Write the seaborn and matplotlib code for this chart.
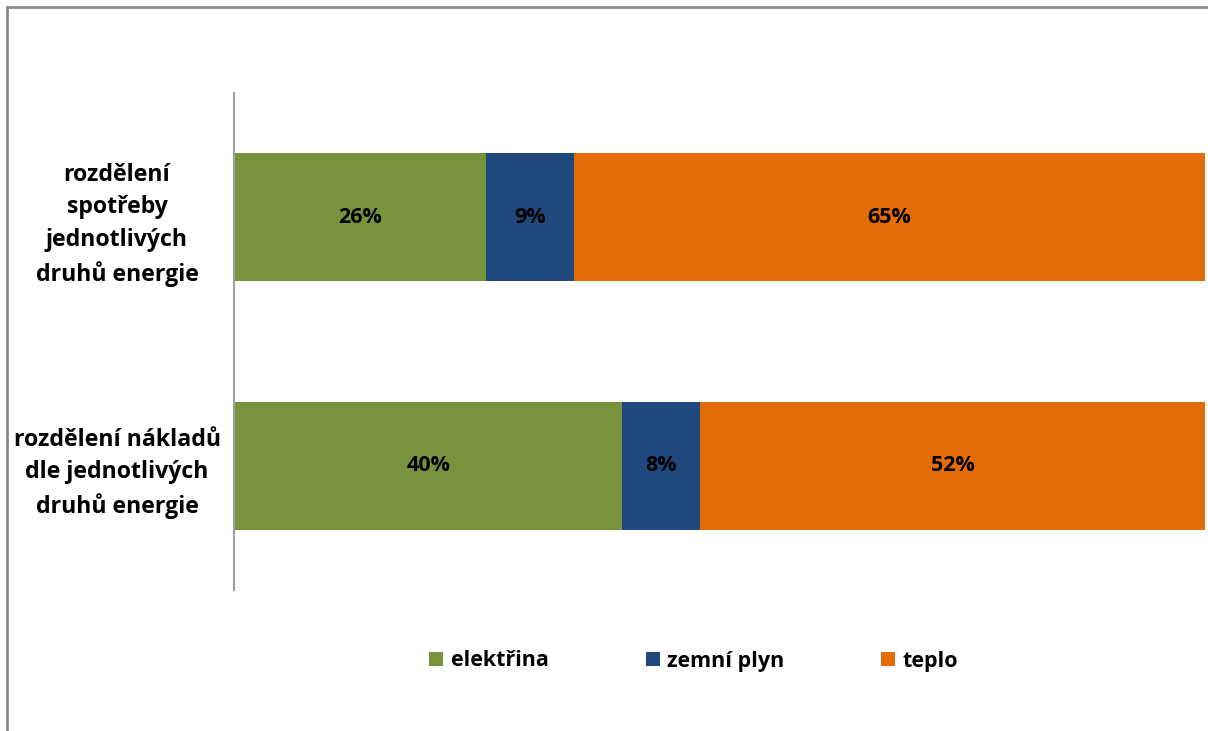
import matplotlib
matplotlib.use("Agg")
import matplotlib.pyplot as plt
import seaborn as sns
import pandas as pd
from matplotlib.patches import Rectangle, Patch
import matplotlib.transforms as mtransforms

categories = ["rozdělení\nspotřeby\njednotlivých\ndruhů energie",
              "rozdělení nákladů\ndle jednotlivých\ndruhů energie"]
series = ["elektřina", "zemní plyn", "teplo"]
elektrina = [26, 40]
zemni_plyn = [9, 8]
teplo = [65, 52]
colors = ["#77933C", "#1F497D", "#E36C09"]

sns.set_theme(style="white")
plt.rcParams['font.family'] = ['Open Sans', 'DejaVu Sans']
FS = 15.5

fig = plt.figure(figsize=(12.08, 7.31), dpi=100)
W, H = 1208, 731
ax = fig.add_axes([234 / W, 1 - 590 / H, (1205 - 234) / W, (590 - 93) / H])

vals = [elektrina, zemni_plyn, teplo]
cum = []
run = [0, 0]
for v in vals:
    run = [a + b for a, b in zip(run, v)]
    cum.append(list(run))

for i in reversed(range(len(series))):
    df = pd.DataFrame({"cat": categories, "val": cum[i]})
    sns.barplot(data=df, x="val", y="cat", color=colors[i], ax=ax,
                width=0.515, saturation=1, edgecolor="none", orient="h")

for i in range(len(series)):
    for j in range(len(categories)):
        start = cum[i][j] - vals[i][j]
        ax.text(start + vals[i][j] / 2, j, f"{vals[i][j]}%", ha="center", va="center",
                fontsize=FS, fontweight="bold", color="black")

ax.set_xlim(0, 100)
ax.set_ylim(1.5, -0.5)
ax.set_xlabel("")
ax.set_ylabel("")
ax.set_xticks([])
ax.tick_params(axis="y", length=0, pad=0)
offset = mtransforms.ScaledTranslation(-(234 - 117) / 100, 0, fig.dpi_scale_trans)
for lab in ax.get_yticklabels():
    lab.set_fontsize(16.7)
    lab.set_fontweight("bold")
    lab.set_horizontalalignment("center")
    lab.set_multialignment("center")
    lab.set_linespacing(1.47)
    lab.set_color("black")
    lab.set_transform(lab.get_transform() + offset)
for s in ["top", "right", "bottom"]:
    ax.spines[s].set_visible(False)
ax.spines["left"].set_color("#A0A0A0")
ax.spines["left"].set_linewidth(1.5)

handles = [Patch(facecolor=c, edgecolor="none", label=s) for c, s in zip(colors, series)]
leg = fig.legend(handles=handles, loc="center", bbox_to_anchor=(694 / W, 1 - 661 / H), ncol=3,
                 frameon=False, prop={"size": FS, "weight": "bold"}, handlelength=0.65,
                 handleheight=0.65, handletextpad=0.35, columnspacing=4.5)
for t in leg.get_texts():
    t.set_color("black")

fig.patches.append(Rectangle((7 / W, -0.1), 1.2, 1 - 7 / H + 0.1, transform=fig.transFigure,
                             fill=False, edgecolor="#8C8C8C", linewidth=2, zorder=0))

fig.savefig("out.png", dpi=100, facecolor="white")
